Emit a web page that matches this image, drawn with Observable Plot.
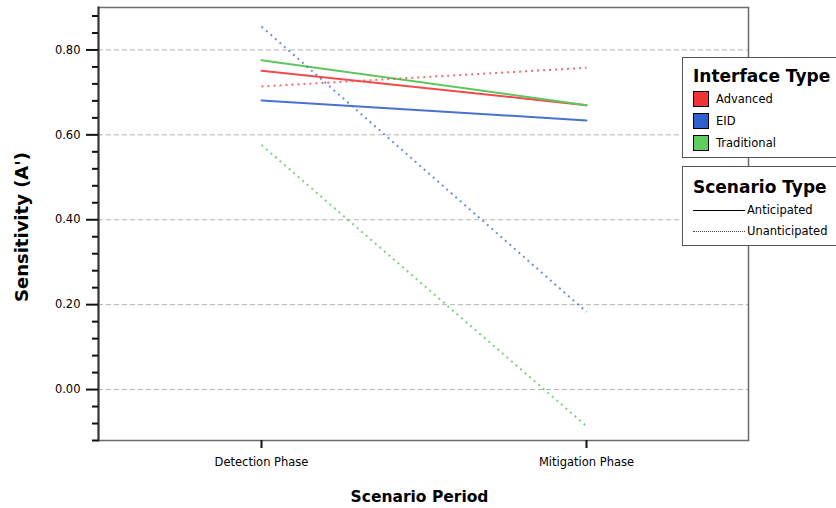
<!DOCTYPE html>
<html>
<head>
<meta charset="utf-8">
<script src="https://cdn.jsdelivr.net/npm/d3@7"></script>
<script src="https://cdn.jsdelivr.net/npm/@observablehq/plot@0.6"></script>
<style>
  html, body { margin: 0; padding: 0; background: #fff; }
  #wrap { position: relative; width: 836px; height: 508px; font-family: "DejaVu Sans", sans-serif; }
  .lg { position: absolute; background: #fff; border: 1.5px solid #555; box-sizing: border-box; }
  .lg .t { position: absolute; left: 10px; font-weight: bold; font-size: 17px; color: #000; white-space: nowrap; }
  .lg .row { position: absolute; left: 10px; height: 16px; display: flex; align-items: center; font-size: 11.5px; color: #000; white-space: nowrap; }
  .sw { width: 16px; height: 16px; border: 1.5px solid #000; margin-right: 7px; box-sizing: border-box; }
  .ls { width: 52px; height: 0; margin-right: 2px; }
</style>
</head>
<body>
<div id="wrap"></div>
<script>
// ---- data ----
const periods = ["Detection Phase", "Mitigation Phase"];
const interfaces = ["Advanced", "EID", "Traditional"];
const scenarioTypes = ["Anticipated", "Unanticipated"];
const anticipatedDetection = [0.751, 0.681, 0.776];
const anticipatedMitigation = [0.670, 0.634, 0.670];
const unanticipatedDetection = [0.714, 0.855, 0.576];
const unanticipatedMitigation = [0.758, 0.183, -0.086];
const majorTicks = [0, 0.2, 0.4, 0.6, 0.8];
const minorTicks = [-0.12, -0.08, -0.04, 0.04, 0.08, 0.12, 0.16, 0.24, 0.28, 0.32, 0.36, 0.44, 0.48, 0.52, 0.56, 0.64, 0.68, 0.72, 0.76, 0.84, 0.88];
const lineColors = ["#f24a4a", "#4a72d2", "#5ec65e"];
const swatchColors = ["#f03434", "#2f5fcf", "#5fcc5f"];

// ---- build rows ----
const rows = [];
interfaces.forEach((iface, i) => {
  rows.push({scenario: "Anticipated", iface, period: periods[0], value: anticipatedDetection[i]});
  rows.push({scenario: "Anticipated", iface, period: periods[1], value: anticipatedMitigation[i]});
  rows.push({scenario: "Unanticipated", iface, period: periods[0], value: unanticipatedDetection[i]});
  rows.push({scenario: "Unanticipated", iface, period: periods[1], value: unanticipatedMitigation[i]});
});
const ant = rows.filter(d => d.scenario === "Anticipated");
const unant = rows.filter(d => d.scenario === "Unanticipated");

const chart = Plot.plot({
  width: 836,
  height: 508,
  marginLeft: 98,
  marginRight: 88,
  marginTop: 7,
  marginBottom: 68,
  style: {fontFamily: "'DejaVu Sans', sans-serif", background: "#fff", color: "#000"},
  x: {type: "point", domain: periods, padding: 0.5, axis: null},
  y: {domain: [-0.12, 0.9], axis: null},
  color: {domain: interfaces, range: lineColors},
  marks: [
    Plot.gridY({ticks: majorTicks, stroke: "#b4b4b4", strokeOpacity: 1, strokeDasharray: "5,3"}),
    Plot.frame({stroke: "#6a6a6a", strokeWidth: 1.5}),
    Plot.line(ant, {x: "period", y: "value", z: "iface", stroke: "iface", strokeWidth: 2}),
    Plot.line(unant, {x: "period", y: "value", z: "iface", stroke: "iface", strokeWidth: 2, strokeOpacity: 0.8, strokeLinecap: "butt", strokeDasharray: "2,4"}),
    Plot.frame({anchor: "left", stroke: "#333", strokeWidth: 2}),
    Plot.axisY({ticks: minorTicks, tickSize: 6, tickFormat: () => "", strokeWidth: 2, stroke: "#111", label: null}),
    Plot.axisY({ticks: majorTicks, tickSize: 12, tickPadding: 6, tickFormat: d3.format(".2f"), fontSize: 11.5, strokeWidth: 2, stroke: "#111", label: null}),
    Plot.axisX({ticks: periods, tickSize: 8, tickPadding: 9, fontSize: 11.5, strokeWidth: 2, stroke: "#111", label: null}),
    Plot.text(["Sensitivity (A')"], {frameAnchor: "left", textAnchor: "middle", dx: -76, dy: 3, rotate: -90, fontWeight: "bold", fontSize: 18}),
    Plot.text(["Scenario Period"], {frameAnchor: "bottom", dy: 61, dx: -4, fontWeight: "bold", fontSize: 15.5})
  ]
});

const wrap = document.getElementById("wrap");
wrap.appendChild(chart);

// ---- legends (HTML overlay) ----
const box1 = document.createElement("div");
box1.className = "lg";
Object.assign(box1.style, {left: "682px", top: "57px", width: "160px", height: "101px"});
let html1 = `<div class="t" style="top:8px">Interface Type</div>`;
interfaces.forEach((iface, i) => {
  html1 += `<div class="row" style="top:${33 + i * 22}px"><div class="sw" style="background:${swatchColors[i]}"></div>${iface}</div>`;
});
box1.innerHTML = html1;
wrap.appendChild(box1);

const box2 = document.createElement("div");
box2.className = "lg";
Object.assign(box2.style, {left: "682px", top: "166px", width: "160px", height: "80px"});
let html2 = `<div class="t" style="top:10px">Scenario Type</div>`;
scenarioTypes.forEach((s, i) => {
  const st = i === 0 ? "border-top:1.5px solid #000" : "border-top:1.5px dotted #444";
  html2 += `<div class="row" style="top:${35 + i * 21}px"><div class="ls" style="${st}"></div>${s}</div>`;
});
box2.innerHTML = html2;
wrap.appendChild(box2);
</script>
</body>
</html>
